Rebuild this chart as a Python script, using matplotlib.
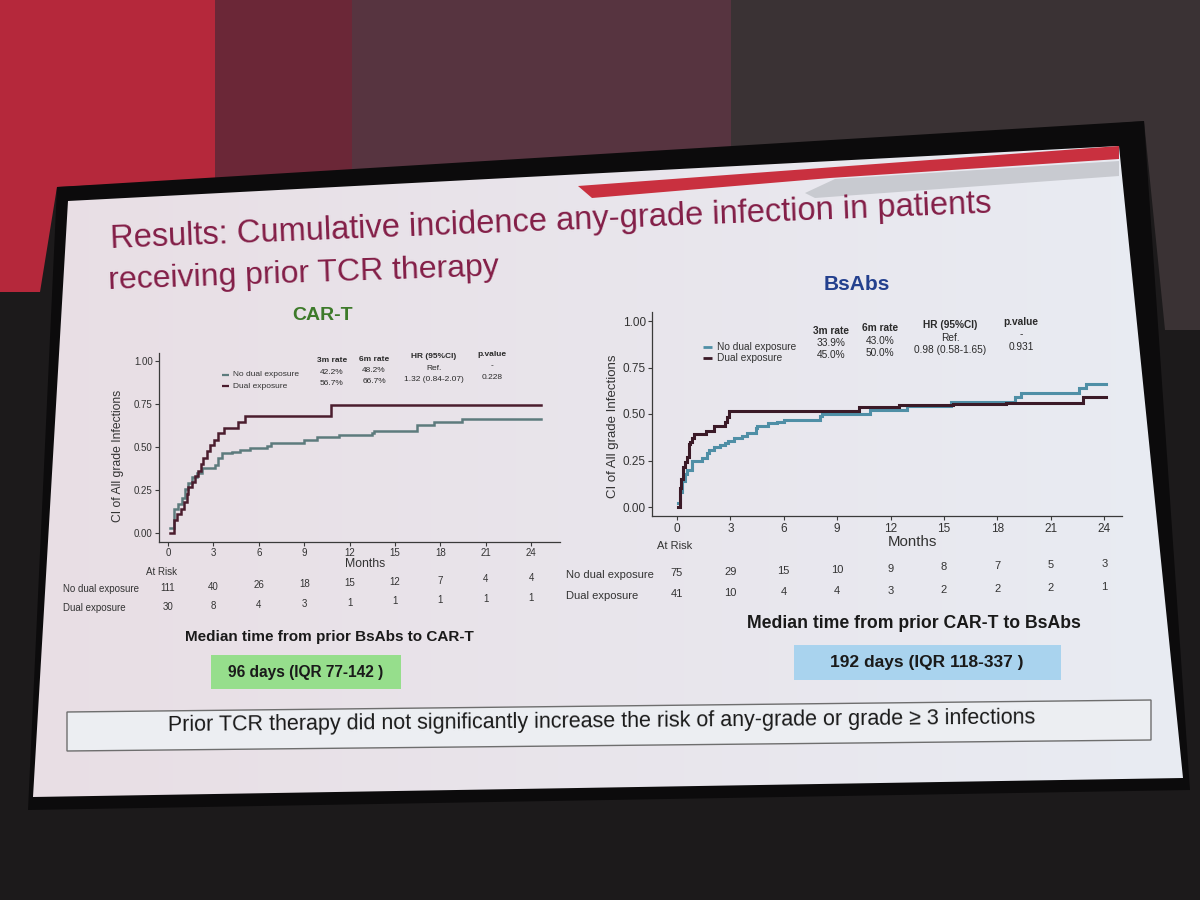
import numpy as np
import matplotlib
matplotlib.use('Agg')
import matplotlib.pyplot as plt
from matplotlib.patches import Polygon, Rectangle
import matplotlib.transforms as mtransforms

plt.rcParams['font.family'] = ['Liberation Sans', 'DejaVu Sans']

# ---------------- data ----------------
title_lines = ["Results: Cumulative incidence any-grade infection in patients",
               "receiving prior TCR therapy"]
panel_titles = ["CAR-T", "BsAbs"]
series_names = ["No dual exposure", "Dual exposure"]
month_ticks = [0, 3, 6, 9, 12, 15, 18, 21, 24]
y_ticks = [0.00, 0.25, 0.50, 0.75, 1.00]
rate_headers = ["3m rate", "6m rate", "HR (95%CI)", "p.value"]

cart_nodual_t = [0.10, 0.38, 0.67, 0.89, 1.11, 1.33, 1.56, 1.89, 2.22, 3.11, 3.33, 3.56, 4.22,
                 4.78, 5.44, 6.56, 6.78, 8.96, 9.82, 11.30, 13.45, 13.60, 16.44, 17.56, 19.45, 24.67]
cart_nodual_v = [0.027, 0.142, 0.170, 0.206, 0.254, 0.293, 0.326, 0.350, 0.378, 0.396, 0.435, 0.464, 0.473,
                 0.486, 0.496, 0.508, 0.527, 0.542, 0.557, 0.569, 0.581, 0.595, 0.627, 0.644, 0.664, 0.664]
cart_dual_t = [0.15, 0.39, 0.56, 0.83, 1.05, 1.22, 1.33, 1.56, 1.78, 2.00, 2.16, 2.33, 2.56, 2.78,
               3.05, 3.33, 3.71, 4.60, 5.10, 10.76, 24.67]
cart_dual_v = [0.000, 0.075, 0.110, 0.142, 0.180, 0.228, 0.268, 0.295, 0.334, 0.363, 0.400, 0.438, 0.476, 0.514,
               0.542, 0.580, 0.611, 0.645, 0.683, 0.745, 0.745]

bsab_nodual_t = [0.05, 0.15, 0.30, 0.45, 0.54, 0.84, 1.42, 1.71, 1.81, 2.10, 2.40, 2.69, 2.88, 3.18, 3.67,
                 3.96, 4.45, 4.50, 5.13, 5.60, 6.00, 8.05, 8.15, 10.84, 12.90, 15.40, 19.00, 19.30, 22.60,
                 23.00, 24.10]
bsab_nodual_v = [0.020, 0.080, 0.140, 0.180, 0.200, 0.250, 0.266, 0.293, 0.305, 0.323, 0.333, 0.345, 0.357,
                 0.371, 0.383, 0.397, 0.423, 0.435, 0.449, 0.457, 0.469, 0.487, 0.498, 0.522, 0.542, 0.565,
                 0.590, 0.615, 0.640, 0.660, 0.660]
bsab_dual_t = [0.08, 0.16, 0.25, 0.36, 0.45, 0.56, 0.66, 0.76, 0.86, 0.96, 1.66, 2.11, 2.71, 2.81, 2.95,
               10.20, 12.50, 15.50, 18.50, 22.80, 24.10]
bsab_dual_v = [0.000, 0.100, 0.150, 0.215, 0.240, 0.270, 0.337, 0.350, 0.370, 0.390, 0.410, 0.434, 0.459,
               0.482, 0.515, 0.540, 0.548, 0.555, 0.560, 0.590, 0.590]

cart_rates = [["42.2%", "48.2%", "Ref.", "-"], ["56.7%", "66.7%", "1.32 (0.84-2.07)", "0.228"]]
bsab_rates = [["33.9%", "43.0%", "Ref.", "-"], ["45.0%", "50.0%", "0.98 (0.58-1.65)", "0.931"]]

cart_risk_nodual = [111, 40, 26, 18, 15, 12, 7, 4, 4]
cart_risk_dual = [30, 8, 4, 3, 1, 1, 1, 1, 1]
bsab_risk_nodual = [75, 29, 15, 10, 9, 8, 7, 5, 3]
bsab_risk_dual = [41, 10, 4, 4, 3, 2, 2, 2, 1]

cart_median_title = "Median time from prior BsAbs to CAR-T"
cart_median_value = "96 days (IQR 77-142 )"
bsab_median_title = "Median time from prior CAR-T to BsAbs"
bsab_median_value = "192 days (IQR 118-337 )"
conclusion = "Prior TCR therapy did not significantly increase the risk of any-grade or grade \u2265 3 infections"

# ---------------- figure & background (photo of the slide) ----------------
W, H = 1200, 900
fig = plt.figure(figsize=(12, 9), dpi=100)
fig.patch.set_facecolor('#1c1a1b')
bg = fig.add_axes([0, 0, 1, 1], zorder=-10)
bg.set_xlim(0, W)
bg.set_ylim(H, 0)
bg.axis('off')

def poly(pts, **kw):
    bg.add_patch(Polygon(pts, closed=True, **kw))

poly([(0, 0), (215, 0), (215, 180), (57, 187), (40, 292), (0, 292)], facecolor='#b5283b', edgecolor='none')
poly([(215, 0), (352, 0), (352, 176), (215, 180)], facecolor='#6b2737', edgecolor='none')
poly([(352, 0), (731, 0), (731, 165), (352, 176)], facecolor='#573440', edgecolor='none')
poly([(731, 0), (1200, 0), (1200, 330), (1165, 330), (1144, 121), (731, 155)], facecolor='#3a3234', edgecolor='none')
poly([(57, 187), (1144, 121), (1190, 790), (28, 810)], facecolor='#0c0b0c', edgecolor='none')

slide_pts = [(68, 201), (1119, 146), (1183, 778), (33, 797)]
slide = Polygon(slide_pts, closed=True, facecolor='none', edgecolor='none')
bg.add_patch(slide)
grad = np.linspace(0, 1, 256)
c0 = np.array([232, 222, 228]) / 255.0
c1 = np.array([233, 236, 243]) / 255.0
img = (c0[None, :] * (1 - grad[:, None]) + c1[None, :] * grad[:, None])[None, :, :]
im = bg.imshow(img, extent=(0, W, H, 0), aspect='auto', zorder=1)
im.set_clip_path(slide)
poly([(578, 186), (1119, 146), (1119, 159), (830, 178), (592, 198)], facecolor='#c9303f', edgecolor='none', zorder=2)
poly([(805, 193), (835, 179), (1119, 161), (1119, 176), (815, 198)], facecolor='#c8cad0', edgecolor='none', zorder=2)

# ---------------- slide texts ----------------
title_color = '#831e47'
bg.text(110, 240, title_lines[0], fontsize=23.5, color=title_color, ha='left', va='center',
        rotation=2.3, rotation_mode='anchor', zorder=3)
bg.text(108, 281, title_lines[1], fontsize=23, color=title_color, ha='left', va='center',
        rotation=2.0, rotation_mode='anchor', zorder=3)
bg.text(323, 315, panel_titles[0], fontsize=14, fontweight='bold', color='#3d7a2a', ha='center', va='center', zorder=3)
bg.text(857, 285, panel_titles[1], fontsize=15, fontweight='bold', color='#23408e', ha='center', va='center', zorder=3)

# ---------------- chart panels ----------------
def draw_panel(l, t, r, b, xlim, ylim, curves, colors, lw, tick_fs):
    ax = fig.add_axes([l / W, 1 - b / H, (r - l) / W, (b - t) / H])
    ax.set_facecolor('none')
    for (tt, vv), c in zip(curves, colors):
        ax.step(tt, vv, where='post', color=c, lw=lw, solid_joinstyle='miter')
    ax.set_xlim(*xlim)
    ax.set_ylim(*ylim)
    ax.set_xticks(month_ticks)
    ax.set_xticklabels([str(m) for m in month_ticks])
    ax.set_yticks(y_ticks)
    ax.set_yticklabels([f"{v:.2f}" for v in y_ticks])
    for s in ['top', 'right']:
        ax.spines[s].set_visible(False)
    for s in ['left', 'bottom']:
        ax.spines[s].set_color('#3a3a3a')
        ax.spines[s].set_linewidth(0.9)
    ax.tick_params(length=3, width=0.8, color='#3a3a3a', labelcolor='#333333', labelsize=tick_fs, pad=1.5)
    return ax

cart_colors = ['#5d7b7d', '#4b1d2e']
bsab_colors = ['#4f8fa6', '#3b1a27']

ax1 = draw_panel(159, 352.7, 560, 541.6, (-0.6, 25.9), (-0.05, 1.05),
                 [(cart_nodual_t, cart_nodual_v), (cart_dual_t, cart_dual_v)], cart_colors, 1.8, 7)
ax2 = draw_panel(652, 311.7, 1122, 516.3, (-1.4, 25.0), (-0.05, 1.05),
                 [(bsab_nodual_t, bsab_nodual_v), (bsab_dual_t, bsab_dual_v)], bsab_colors, 2.2, 8.5)

# axis titles
bg.text(118, 456, "CI of All grade Infections", rotation=90, fontsize=8.7, color='#333333', ha='center', va='center', zorder=3)
bg.text(613, 426, "CI of All grade Infections", rotation=90, fontsize=9.5, color='#333333', ha='center', va='center', zorder=3)
bg.text(365, 564, "Months", fontsize=8.8, color='#333333', ha='center', va='center', zorder=3)
bg.text(912, 542, "Months", fontsize=10.8, color='#333333', ha='center', va='center', zorder=3)

# legends
def legend(x0, x1, xt, ys, colors, fs, lw):
    for name, c, y in zip(series_names, colors, ys):
        bg.plot([x0, x1], [y, y], color=c, lw=lw, solid_capstyle='butt', zorder=3)
        bg.text(xt, y, name, fontsize=fs, color='#333333', ha='left', va='center', zorder=3)

legend(222, 229, 233, [375, 386], cart_colors, 6, 1.6)
legend(703, 712, 717, [346.7, 358], bsab_colors, 7.3, 2.0)

# rate tables
def rate_table(cols, y0, slope, dy, rows, fs):
    for j, (x, h) in enumerate(zip(cols, rate_headers)):
        yh = y0 - slope * (x - cols[0])
        bg.text(x, yh, h, fontsize=fs, fontweight='bold', color='#2a2a2a', ha='center', va='center', zorder=3)
        for i, row in enumerate(rows):
            bg.text(x, yh + dy[i], row[j], fontsize=fs, color='#2a2a2a', ha='center', va='center', zorder=3)

rate_table([332, 374, 434, 492], 361, 0.04, [11.3, 22.5], cart_rates, 6)
rate_table([831, 880, 950, 1021], 330.7, 0.047, [12.5, 24.8], bsab_rates, 7.3)

# at-risk tables
def risk_table(ax, at_xy, lab_x, rows_y0, rows_y1, lab_y, counts, fs):
    tr = mtransforms.blended_transform_factory(ax.transData, bg.transData)
    bg.text(at_xy[0], at_xy[1], "At Risk", fontsize=fs, color='#333333', ha='center', va='center', zorder=3)
    for name, cnt, y0, y1, ly in zip(series_names, counts, rows_y0, rows_y1, lab_y):
        bg.text(lab_x, ly, name, fontsize=fs, color='#333333', ha='left', va='center', zorder=3)
        for m, n in zip(month_ticks, cnt):
            y = y0 + (y1 - y0) * m / 24.0
            bg.text(m, y, str(n), fontsize=fs, color='#333333', ha='center', va='center', transform=tr, zorder=3)

risk_table(ax1, (162, 572), 63, [588, 607], [578, 598], [589, 608],
           [cart_risk_nodual, cart_risk_dual], 7)
risk_table(ax2, (675, 546), 566, [573, 594], [564, 587], [575, 596],
           [bsab_risk_nodual, bsab_risk_dual], 8)

# median boxes
bg.text(329, 637, cart_median_title, fontsize=11, fontweight='bold', color='#1a1a1a', ha='center', va='center', zorder=3)
bg.add_patch(Rectangle((211, 655), 190, 34, facecolor='#96de8c', edgecolor='none', zorder=2))
bg.text(306, 672, cart_median_value, fontsize=11.2, fontweight='bold', color='#1a1a1a', ha='center', va='center', zorder=3)

bg.text(914, 623, bsab_median_title, fontsize=12.7, fontweight='bold', color='#1a1a1a', ha='center', va='center', zorder=3)
bg.add_patch(Rectangle((794, 645), 267, 35, facecolor='#a9d3ee', edgecolor='none', zorder=2))
bg.text(927, 663, bsab_median_value, fontsize=12.5, fontweight='bold', color='#1a1a1a', ha='center', va='center', zorder=3)

# conclusion box
poly([(67, 712), (1151, 700), (1151, 740), (67, 751)], facecolor='#eceef2', edgecolor='#6e6e6e', lw=1.0, zorder=2)
bg.text(602, 722, conclusion, fontsize=15.5, color='#1a1a1a', ha='center', va='center', rotation=0.5,
        rotation_mode='anchor', zorder=3)

fig.savefig('out.png', dpi=100, facecolor=fig.get_facecolor())
